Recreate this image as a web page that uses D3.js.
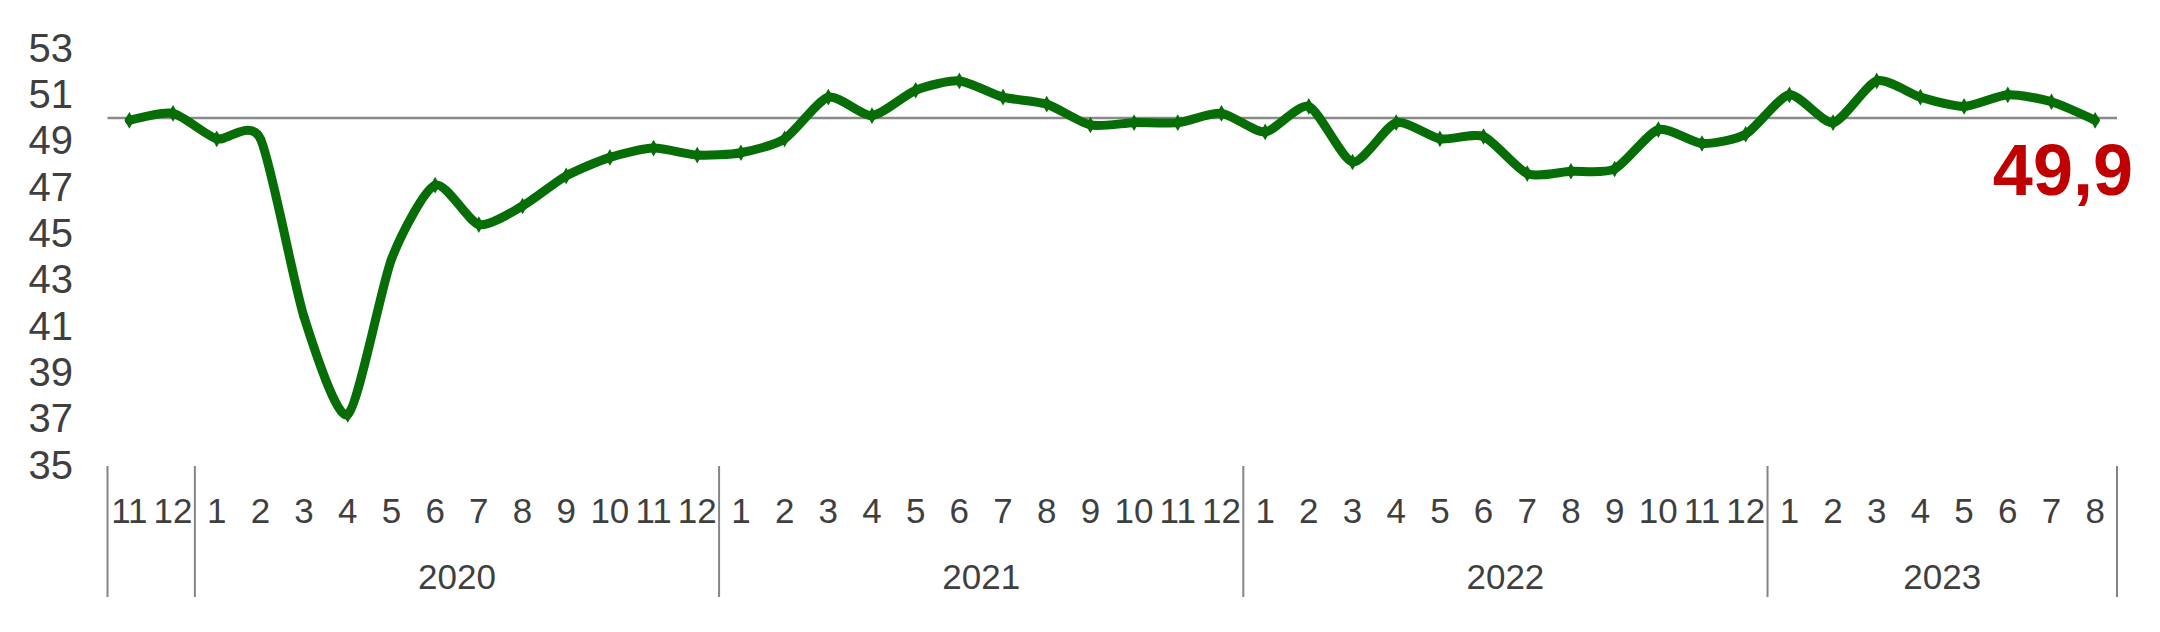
<!DOCTYPE html>
<html>
<head>
<meta charset="utf-8">
<script src="https://cdn.jsdelivr.net/npm/d3@7"></script>
<style>
  html, body { margin: 0; padding: 0; background: #ffffff; }
  svg { display: block; }
</style>
</head>
<body>
<svg id="chart" width="2160" height="632"></svg>
<script>
// ---- data ----
const months = ["11","12",
  "1","2","3","4","5","6","7","8","9","10","11","12",
  "1","2","3","4","5","6","7","8","9","10","11","12",
  "1","2","3","4","5","6","7","8","9","10","11","12",
  "1","2","3","4","5","6","7","8"];
const yearLabels = ["", "2020", "2021", "2022", "2023"];
const yearCounts = [2, 12, 12, 12, 8];
const values = [49.9, 50.2,
  49.1, 49.1, 41.4, 37.2, 43.9, 47.1, 45.4, 46.2, 47.5, 48.3, 48.7, 48.4,
  48.5, 49.1, 50.9, 50.1, 51.2, 51.6, 50.9, 50.6, 49.7, 49.8, 49.8, 50.2,
  49.4, 50.5, 48.1, 49.8, 49.1, 49.2, 47.6, 47.7, 47.8, 49.5, 48.9, 49.3,
  51.0, 49.8, 51.6, 50.9, 50.5, 51.0, 50.7, 49.9];
const yTicks = [35, 37, 39, 41, 43, 45, 47, 49, 51, 53];
const refValue = 50;
const lastLabel = "49,9";

// ---- layout ----
const svg = d3.select("#chart");
const left = 107.5, right = 2117;
const yTop = 48.5, yBottom = 465.5;
const textColor = "#3f3f3f";
const green = "#076d07";

const idx = d3.range(values.length);
const x = d3.scaleBand().domain(idx).range([left, right]).paddingInner(0).paddingOuter(0);
const xc = i => x(i) + x.bandwidth() / 2;
const y = d3.scaleLinear().domain([35, 53]).range([yBottom, yTop]);

// y axis
const yAxis = d3.axisLeft(y).tickValues(yTicks).tickSize(0).tickPadding(34.5).tickFormat(d3.format("d"));
const gy = svg.append("g").attr("transform", `translate(${left},0)`).call(yAxis);
gy.select(".domain").remove();
gy.selectAll("text")
  .attr("font-family", "'Liberation Sans', Arial, sans-serif")
  .attr("font-size", 40)
  .attr("fill", textColor);

// x axis (months)
const axisY = 466;
const xAxis = d3.axisBottom(x).tickSize(0).tickPadding(32).tickFormat(i => months[i]);
const gx = svg.append("g").attr("transform", `translate(0,${axisY})`).call(xAxis);
gx.select(".domain").remove();
gx.selectAll("text")
  .attr("font-family", "'Liberation Sans', Arial, sans-serif")
  .attr("font-size", 35)
  .attr("fill", textColor);

// year groups
let starts = [];
let acc = 0;
yearCounts.forEach(c => { starts.push(acc); acc += c; });
const bounds = starts.concat([values.length]);
svg.append("g").selectAll("line").data(bounds).join("line")
  .attr("x1", b => b < values.length ? x(b) : x(values.length - 1) + x.bandwidth())
  .attr("x2", b => b < values.length ? x(b) : x(values.length - 1) + x.bandwidth())
  .attr("y1", 466).attr("y2", 597)
  .attr("stroke", "#858585").attr("stroke-width", 2);

svg.append("g").selectAll("text").data(yearLabels).join("text")
  .attr("x", (d, k) => {
    const a = x(starts[k]);
    const b = x(starts[k] + yearCounts[k] - 1) + x.bandwidth();
    return (a + b) / 2;
  })
  .attr("y", 589)
  .attr("text-anchor", "middle")
  .attr("font-family", "'Liberation Sans', Arial, sans-serif")
  .attr("font-size", 35)
  .attr("fill", textColor)
  .text(d => d);

// reference line at 50
svg.append("line")
  .attr("x1", left).attr("x2", right)
  .attr("y1", y(refValue)).attr("y2", y(refValue))
  .attr("stroke", "#8a8a8a").attr("stroke-width", 2.5);

// series line
const line = d3.line().x((d, i) => xc(i)).y(d => y(d)).curve(d3.curveCardinal.tension(0.3));
svg.append("path")
  .datum(values)
  .attr("d", line)
  .attr("fill", "none")
  .attr("stroke", green)
  .attr("stroke-width", 9)
  .attr("stroke-linejoin", "round")
  .attr("stroke-linecap", "round");

// markers
const diamond = d3.symbol().type(d3.symbolDiamond).size(80);
svg.append("g").selectAll("path").data(values).join("path")
  .attr("transform", (d, i) => `translate(${xc(i)},${y(d)})`)
  .attr("d", diamond)
  .attr("fill", green);

// last value label
svg.append("text")
  .attr("x", 2133)
  .attr("y", 195)
  .attr("text-anchor", "end")
  .attr("font-family", "'Liberation Sans', Arial, sans-serif")
  .attr("font-weight", "bold")
  .attr("font-size", 72)
  .attr("fill", "#c00000")
  .text(lastLabel);
</script>
</body>
</html>
